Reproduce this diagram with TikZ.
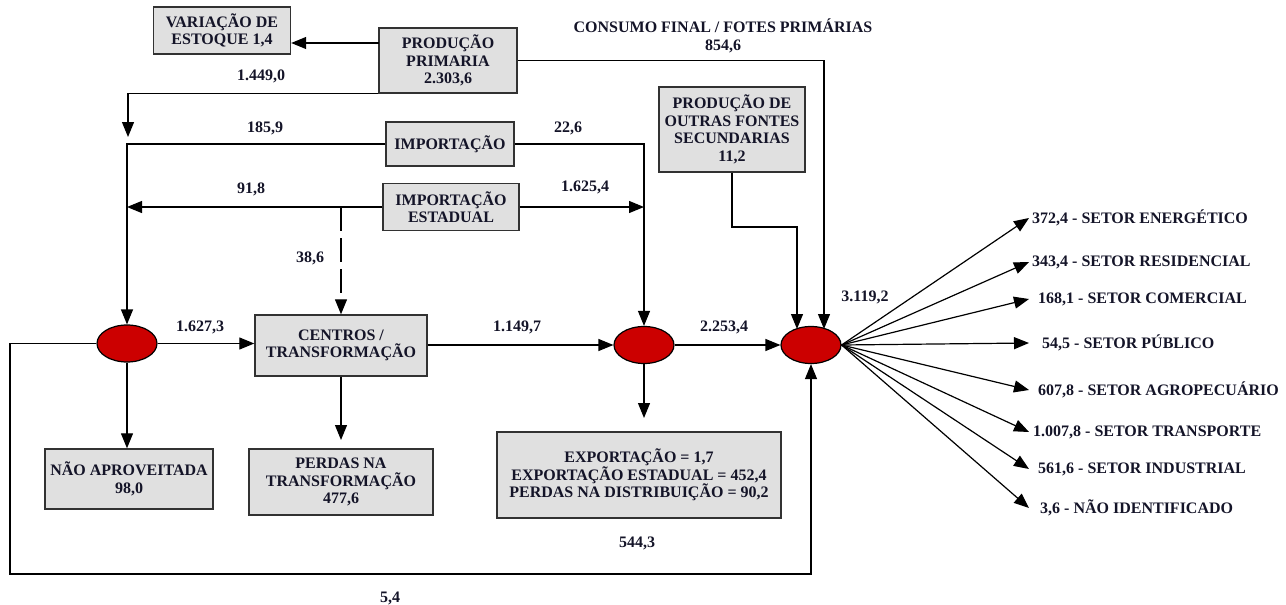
\documentclass[tikz,border=0pt]{standalone}
\usepackage{fontspec}
\setmainfont{Liberation Serif}
\usetikzlibrary{arrows.meta,calc,shapes.geometric}
\definecolor{boxfill}{RGB}{224,224,224}
\definecolor{boxline}{RGB}{50,50,50}
\definecolor{nodered}{RGB}{204,0,0}
\definecolor{txt}{RGB}{20,20,40}
\begin{document}
\begin{tikzpicture}[x=1pt,y=-1pt,
  font=\fontsize{16}{17.5}\selectfont\bfseries,
  box/.style={draw=boxline,fill=boxfill,line width=1.4pt,align=center,inner sep=0pt,text=txt},
  lbl/.style={text=txt,inner sep=0pt,align=center},
  flow/.style={line width=1.2pt,-{Triangle[length=15pt,width=12pt]}},
  plain/.style={line width=1.2pt},
  hub/.style={ellipse,draw=black,fill=nodered,line width=1.2pt,minimum width=60pt,minimum height=37pt,inner sep=0pt}]
\useasboundingbox (0,0) rectangle (1286,605);

% boxes
\node[box,minimum width=137pt,minimum height=47pt] (var) at (222,30.5) {VARIAÇÃO DE\\ESTOQUE 1,4};
\node[box,minimum width=138pt,minimum height=65pt] (prod) at (448,60.5) {PRODUÇÃO\\PRIMARIA\\2.303,6};
\node[box,minimum width=128pt,minimum height=44pt] (imp) at (450,144) {IMPORTAÇÃO};
\node[box,minimum width=136pt,minimum height=47pt] (impest) at (451,207) {IMPORTAÇÃO\\ESTADUAL};
\node[box,minimum width=146pt,minimum height=85pt] (outras) at (732,129.5) {PRODUÇÃO DE\\OUTRAS FONTES\\SECUNDARIAS\\11,2};
\node[box,minimum width=172pt,minimum height=61pt] (centros) at (341,345.5) {CENTROS /\\TRANSFORMAÇÃO};
\node[box,minimum width=168pt,minimum height=60pt] (naoap) at (129,479) {NÃO APROVEITADA\\98,0};
\node[box,minimum width=184pt,minimum height=66pt] (perdas) at (341,482) {PERDAS NA\\TRANSFORMAÇÃO\\477,6};
\node[box,minimum width=284pt,minimum height=86pt] (expo) at (639,475) {EXPORTAÇÃO = 1,7\\EXPORTAÇÃO ESTADUAL = 452,4\\PERDAS NA DISTRIBUIÇÃO = 90,2};

% hubs
\node[hub] (e1) at (127,343.5) {};
\node[hub] (e2) at (644,345) {};
\node[hub] (e3) at (811,345) {};

% labels
\node[lbl] (l1) at (261,76) {1.449,0};
\node[lbl] (l2) at (723,36) {CONSUMO FINAL / FOTES PRIMÁRIAS\\854,6};
\node[lbl] (l3) at (265,128) {185,9};
\node[lbl] (l4) at (568,128) {22,6};
\node[lbl] (l5) at (251,189) {91,8};
\node[lbl] (l6) at (585,187) {1.625,4};
\node[lbl] (l7) at (310,258) {38,6};
\node[lbl] (l8) at (200,327) {1.627,3};
\node[lbl] (l9) at (517,327) {1.149,7};
\node[lbl] (l10) at (724,327) {2.253,4};
\node[lbl] (l11) at (865,297) {3.119,2};
\node[lbl] (l12) at (637,543) {544,3};
\node[lbl] (l13) at (390,598) {5,4};

% coordinates
\coordinate (pv) at (379,43);
\coordinate (tipA) at (128,137);
\coordinate (e3a) at (824,329);
\coordinate (e3b) at (797,329);
\coordinate (ob) at (732,227);
\coordinate (tipP) at (341,440);
\coordinate (tipE) at (644,418);
\coordinate (fb1) at (10,343.5);
\coordinate (fb2) at (10,574);

% connectors
\draw[flow] (pv) -- (pv -| var.east);
\draw[flow] (prod.south west) -| (tipA);
\draw[flow] (prod.east) -| (e3a);
\draw[flow] (outras.south) -- (ob) -| (e3b);
\draw[flow] (imp.west) -| (e1.north);
\draw[flow] (imp.east) -| (e2.north);
\draw[flow] (impest.west) -- (impest.west -| e1.north);
\draw[flow] (impest.east) -- (impest.east -| e2.north);
\draw[flow,dash pattern=on 24pt off 7pt] (centros.north |- impest.west) -- (centros.north);
\draw[flow] (e1.east) -- (e1.east -| centros.west);
\draw[flow] (centros.east |- e2.west) -- (e2.west);
\draw[flow] (e2.east) -- (e3.west);
\draw[flow] (e1.south) -- (naoap.north -| e1.south);
\draw[flow] (centros.south) -- (tipP);
\draw[flow] (e2.south) -- (tipE);
\draw[flow] (e1.west) -- (fb1) -- (fb2) -| (e3.south);

% fan out
\foreach \yy/\xx/\tt [count=\i] in {218/1032/{372,4 - SETOR ENERGÉTICO},262/1032/{343,4 - SETOR RESIDENCIAL},299/1038/{168,1 - SETOR COMERCIAL},343/1042/{54,5 - SETOR PÚBLICO},390/1038/{607,8 - SETOR AGROPECUÁRIO},432/1033/{1.007,8 - SETOR TRANSPORTE},469/1038/{561,6 - SETOR INDUSTRIAL},508/1040/{3,6 - NÃO IDENTIFICADO}}{
  \node[lbl,anchor=west] (t\i) at (\xx,\yy) {\tt};
  \coordinate (f\i) at (1029,\yy);
  \draw[flow] (e3.east) -- (f\i);
}
\end{tikzpicture}
\end{document}
